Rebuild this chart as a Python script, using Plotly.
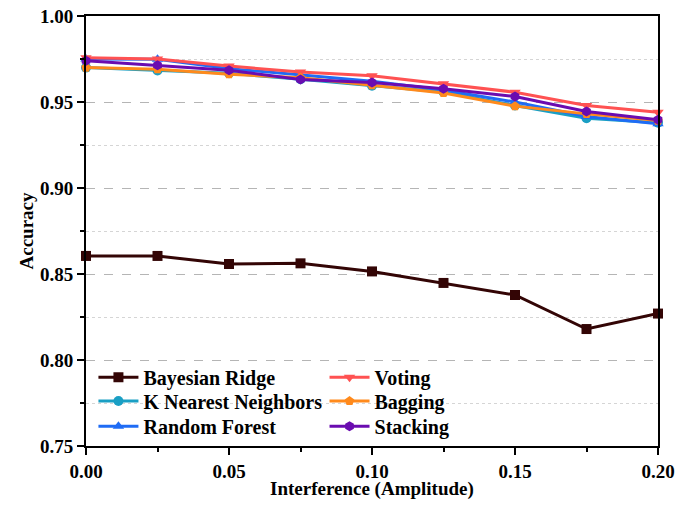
import plotly.graph_objects as go

x_vals = [0.0, 0.025, 0.05, 0.075, 0.1, 0.125, 0.15, 0.175, 0.2]
bayesian_ridge = [0.8605, 0.8605, 0.8558, 0.8562, 0.8515, 0.8448, 0.8378, 0.8180, 0.8270]
knn = [0.9700, 0.9683, 0.9667, 0.9632, 0.9594, 0.9558, 0.9480, 0.9406, 0.9380]
random_forest = [0.9750, 0.9748, 0.9694, 0.9655, 0.9620, 0.9570, 0.9500, 0.9416, 0.9373]
voting = [0.9757, 0.9750, 0.9709, 0.9674, 0.9652, 0.9606, 0.9557, 0.9480, 0.9441]
bagging = [0.9700, 0.9690, 0.9662, 0.9641, 0.9598, 0.9552, 0.9476, 0.9431, 0.9392]
stacking = [0.9740, 0.9713, 0.9684, 0.9631, 0.9614, 0.9577, 0.9532, 0.9445, 0.9397]

series = [
    ("Bayesian Ridge", bayesian_ridge, "#330505", "square"),
    ("K Nearest Neighbors", knn, "#1a9fc4", "circle"),
    ("Random Forest", random_forest, "#1f6cf5", "triangle-up"),
    ("Voting", voting, "#ff5252", "triangle-down"),
    ("Bagging", bagging, "#ff8a1c", "pentagon"),
    ("Stacking", stacking, "#6a0cb0", "hexagon"),
]

x_title = "Interference (Amplitude)"
y_title = "Accuracy"

# legend slot per series (column x, row y in paper coords)
legend_cols = [0.013, 0.013, 0.013, 0.417, 0.417, 0.417]
legend_rows = [0.160, 0.1045, 0.046, 0.160, 0.1045, 0.046]

FONT = "Times New Roman, Liberation Serif, serif"

fig = go.Figure()
legend_layout = {}
for i, (name, vals, color, sym) in enumerate(series):
    lname = "legend" if i == 0 else f"legend{i + 1}"
    fig.add_trace(go.Scatter(
        x=x_vals, y=vals, name=name, mode="lines+markers",
        line=dict(color=color, width=3),
        marker=dict(symbol=sym, size=10, color=color),
        cliponaxis=False, legend=lname,
    ))
    legend_layout[lname] = dict(
        x=legend_cols[i], y=legend_rows[i],
        xanchor="left", yanchor="middle",
        bgcolor="rgba(0,0,0,0)", borderwidth=0,
        font=dict(family=FONT, size=20, color="black", weight="bold"),
        itemwidth=40,
    )

fig.update_layout(
    width=678, height=491,
    margin=dict(l=78, r=28, t=8, b=53),
    plot_bgcolor="white", paper_bgcolor="white",
    font=dict(family=FONT, size=19, color="black", weight="bold"),
    showlegend=True,
    **legend_layout,
    xaxis=dict(
        range=[0, 0.2], dtick=0.05, tickformat=".2f", automargin=False,
        ticklabeloverflow="allow",
        showline=True, linecolor="black", linewidth=2, mirror=True,
        ticks="outside", ticklen=7, tickwidth=2, tickcolor="black",
        minor=dict(dtick=0.025, ticks="outside", ticklen=4, tickwidth=2, tickcolor="black", showgrid=False),
        showgrid=False, zeroline=False,
        tickfont=dict(family=FONT, size=19, weight="bold"),
    ),
    yaxis=dict(
        range=[0.75, 1.0], dtick=0.05, tickformat=".2f", automargin=False,
        ticklabeloverflow="allow",
        showline=True, linecolor="black", linewidth=2, mirror=True,
        ticks="outside", ticklen=7, tickwidth=2, tickcolor="black",
        showgrid=True, gridcolor="#b5b5b5", griddash="dash", gridwidth=1,
        minor=dict(dtick=0.025, ticks="outside", ticklen=4, tickwidth=2, tickcolor="black",
                   showgrid=True, gridcolor="#d5d5d5", griddash="dot", gridwidth=1),
        zeroline=False,
        title=dict(text=y_title, font=dict(family=FONT, size=19, weight="bold"), standoff=1),
        tickfont=dict(family=FONT, size=19, weight="bold"),
    ),
    annotations=[dict(
        text=x_title, xref="paper", yref="paper", x=0.5, y=-0.1,
        xanchor="center", yanchor="middle", showarrow=False,
        font=dict(family=FONT, size=19, color="black", weight="bold"),
    )],
)

fig.write_html("out.html")
